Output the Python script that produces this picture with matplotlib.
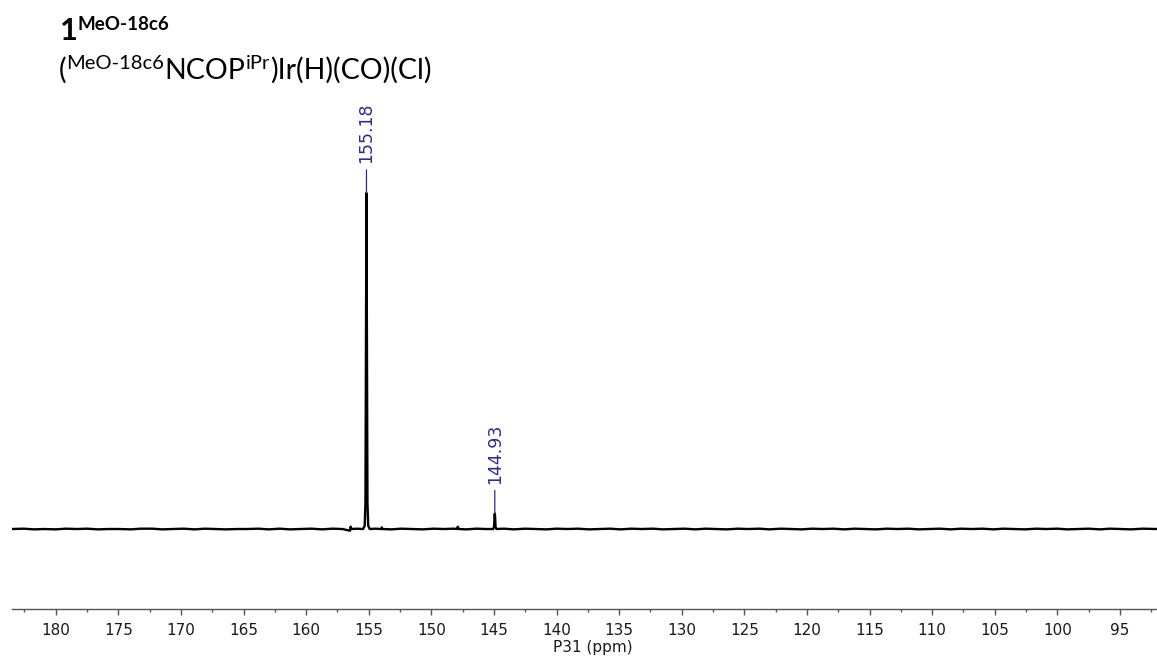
import matplotlib
matplotlib.use('Agg')
import matplotlib.pyplot as plt
from matplotlib.ticker import MultipleLocator
import numpy as np

plt.rcParams['font.family'] = 'DejaVu Sans'

# 31P spectrum, hand-read points (ppm, relative intensity)
shift_ppm = [183.5, 182.6, 181.7, 180.9, 180.0, 179.2, 178.3, 177.5, 176.6, 175.8,
             174.9, 174.0, 173.2, 172.3, 171.5, 170.6, 169.8, 168.9, 168.1, 167.2,
             166.4, 165.5, 164.7, 163.8, 163.0, 162.1, 161.3, 160.4, 159.6, 158.7,
             157.9, 157.1, 156.50, 156.44, 156.38, 155.9, 155.45, 155.32, 155.26,
             155.22, 155.18, 155.14, 155.10, 155.04, 154.92, 154.5, 154.00, 153.96,
             153.90, 153.2, 152.4, 151.5, 150.7, 149.8, 149.0, 148.2, 147.95, 147.89,
             147.80, 147.2, 146.4, 145.6, 145.06, 144.99, 144.95, 144.93, 144.91,
             144.87, 144.80, 144.2, 143.4, 142.5, 141.7, 140.8, 140.0, 139.1, 138.3,
             137.4, 136.6, 135.7, 134.9, 134.0, 133.2, 132.3, 131.5, 130.6, 129.8,
             128.9, 128.1, 127.2, 126.4, 125.5, 124.7, 123.8, 123.0, 122.1, 121.3,
             120.4, 119.6, 118.7, 117.9, 117.0, 116.2, 115.3, 114.5, 113.6, 112.8,
             111.9, 111.1, 110.2, 109.4, 108.5, 107.7, 106.8, 106.0, 105.1, 104.3,
             103.4, 102.6, 101.7, 100.9, 100.0, 99.2, 98.3, 97.5, 96.6, 95.8, 94.9,
             94.1, 93.2, 92.0]
intensity = [0.000, 0.001, -0.001, 0.000, -0.001, 0.001, 0.000, 0.001, -0.001, 0.000,
             0.000, -0.001, 0.001, 0.001, -0.001, 0.000, 0.001, -0.001, 0.001, 0.000,
             -0.001, 0.000, 0.000, 0.001, -0.001, 0.001, -0.001, 0.000, 0.001, -0.001,
             0.001, 0.000, -0.005, 0.007, 0.000, 0.001, 0.000, 0.010, 0.080,
             0.550, 1.000, 0.550, 0.080, 0.010, 0.000, 0.001, 0.000, 0.005,
             0.000, -0.001, 0.001, 0.000, -0.001, 0.001, 0.000, 0.001, 0.000, 0.007,
             0.000, -0.001, 0.001, 0.000, 0.000, 0.006, 0.040, 0.046, 0.040,
             0.006, 0.000, 0.001, -0.001, 0.001, 0.000, -0.001, 0.001, 0.000, 0.001,
             -0.001, 0.000, 0.001, -0.001, 0.001, 0.000, 0.001, -0.001, 0.000, 0.001,
             -0.001, 0.001, 0.000, -0.001, 0.001, 0.000, 0.001, -0.001, 0.001, 0.000,
             -0.001, 0.001, 0.000, 0.001, -0.001, 0.001, 0.000, -0.001, 0.001, 0.000,
             0.001, -0.001, 0.000, 0.001, -0.001, 0.001, 0.000, 0.001, -0.001, 0.001,
             0.000, -0.001, 0.001, 0.000, 0.001, -0.001, 0.000, 0.001, -0.001, 0.001,
             0.000, -0.001, 0.001, 0.000]

# picked peaks
peak_labels = [155.18, 144.93]

W, H = 1157, 658
fig = plt.figure(figsize=(W / 100, H / 100), dpi=100)
fig.patch.set_facecolor('white')

ax_l, ax_r, ax_top, ax_bot = 11.5, 1157, 70, 609
ax = fig.add_axes([ax_l / W, (H - ax_bot) / H, (ax_r - ax_l) / W, (ax_bot - ax_top) / H])

ax.plot(shift_ppm, intensity, color='black', lw=1.7, solid_joinstyle='round')

ax.set_xlim(183.53, 92.04)
ax.set_ylim(-0.238, 1.366)

for s in ['top', 'left', 'right']:
    ax.spines[s].set_visible(False)
ax.spines['bottom'].set_color('#555555')
ax.spines['bottom'].set_linewidth(1.0)
ax.set_yticks([])
ax.xaxis.set_major_locator(MultipleLocator(5))
ax.xaxis.set_minor_locator(MultipleLocator(2.5))
ax.tick_params(axis='x', which='major', direction='out', length=4, width=1,
               color='#555555', labelsize=11, labelcolor='#1a1a1a', pad=6)
ax.tick_params(axis='x', which='minor', direction='out', length=2.5, width=1,
               color='#555555')
ax.set_xlabel('P31 (ppm)', fontsize=11, color='#1a1a1a')
ax.xaxis.set_label_coords((593 - ax_l) / (ax_r - ax_l), -31 / (ax_bot - ax_top))

# peak labels with short leader lines
blue = '#2b2d92'
for p in peak_labels:
    h = np.interp(p, shift_ppm[::-1], intensity[::-1])
    ax.annotate(f'{p:.2f}', xy=(p, h), xytext=(0, 30), textcoords='offset pixels',
                rotation=90, ha='center', va='bottom', color=blue, fontsize=12.5,
                arrowprops=dict(arrowstyle='-', color=blue, lw=0.9,
                                shrinkA=3, shrinkB=0))


# title with superscripts, placed run by run
def draw_runs(x0, base, runs):
    renderer = fig.canvas.get_renderer()
    x = x0
    for txt, size, weight, rise in runs:
        t = fig.text(x / W, (H - base + rise) / H, txt, fontsize=size,
                     fontweight=weight, family='Lato', color='black',
                     va='baseline', ha='left')
        x += t.get_window_extent(renderer).width


draw_runs(60, 40, [('1', 22, 'bold', 0), ('MeO-18c6', 13.5, 'bold', 10)])
draw_runs(59, 79, [('(', 20.5, 'normal', 0), ('MeO-18c6', 14.5, 'normal', 10),
                   ('NCOP', 20.5, 'normal', 0), ('iPr', 14.5, 'normal', 10),
                   (')Ir(H)(CO)(Cl)', 20.5, 'normal', 0)])

fig.savefig('out.png', dpi=100, facecolor='white')
